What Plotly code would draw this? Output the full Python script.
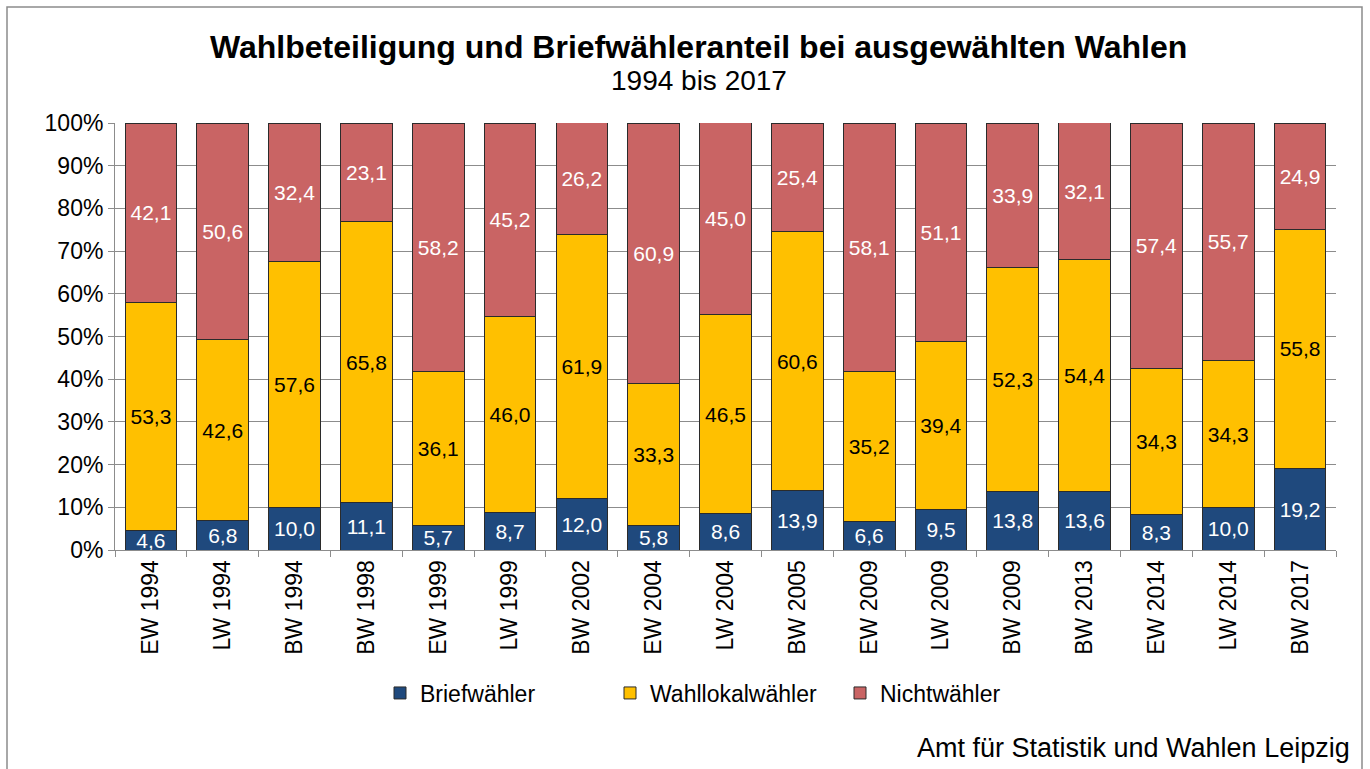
import plotly.graph_objects as go

wahlen = ["EW 1994", "LW 1994", "BW 1994", "BW 1998", "EW 1999", "LW 1999", "BW 2002",
          "EW 2004", "LW 2004", "BW 2005", "EW 2009", "LW 2009", "BW 2009", "BW 2013",
          "EW 2014", "LW 2014", "BW 2017"]
briefwaehler = [4.6, 6.8, 10.0, 11.1, 5.7, 8.7, 12.0, 5.8, 8.6, 13.9, 6.6, 9.5, 13.8, 13.6, 8.3, 10.0, 19.2]
wahllokalwaehler = [53.3, 42.6, 57.6, 65.8, 36.1, 46.0, 61.9, 33.3, 46.5, 60.6, 35.2, 39.4, 52.3, 54.4, 34.3, 34.3, 55.8]
nichtwaehler = [42.1, 50.6, 32.4, 23.1, 58.2, 45.2, 26.2, 60.9, 45.0, 25.4, 58.1, 51.1, 33.9, 32.1, 57.4, 55.7, 24.9]

FONT = "Liberation Sans, Arial, sans-serif"


def de(v):
    return f"{v:.1f}".replace(".", ",")


series = [
    ("Briefwähler", briefwaehler, "#1F497D", "white"),
    ("Wahllokalwähler", wahllokalwaehler, "#FFC000", "black"),
    ("Nichtwähler", nichtwaehler, "#C96464", "white"),
]

fig = go.Figure()
for name, vals, color, tcol in series:
    fig.add_trace(go.Bar(
        x=wahlen, y=vals, name=name,
        marker=dict(color=color, line=dict(color="#2b2b2b", width=1)),
        text=[de(v) for v in vals],
        textposition="inside", insidetextanchor="middle",
        constraintext="none",
        textfont=dict(family=FONT, size=21, color=tcol),
        textangle=0,
        hoverinfo="skip",
    ))

# plot area: x 115..1336, y 123..550 (pixels)
L, R, T, B = 115, 1336, 123, 550
W, H = R - L, B - T


def px(x):
    return (x - L) / W


def py(y):
    return (B - y) / H


fig.update_layout(
    barmode="stack",
    bargap=0.28,
    width=1370, height=769,
    margin=dict(l=L, r=1370 - R, t=T, b=769 - B),
    paper_bgcolor="white", plot_bgcolor="white",
    font=dict(family=FONT, size=23, color="black"),
    showlegend=True,
    legend=dict(orientation="h", x=px(725), xanchor="center", y=py(693), yanchor="middle",
                font=dict(family=FONT, size=23), traceorder="normal",
                itemwidth=30, entrywidth=185, entrywidthmode="pixels",
                bgcolor="rgba(0,0,0,0)"),
    xaxis=dict(type="category", showline=True, linecolor="#8c8c8c", linewidth=1,
               ticks="outside", tickson="boundaries", ticklen=6, tickcolor="#8c8c8c",
               tickangle=-90, tickfont=dict(family=FONT, size=23), showgrid=False),
    yaxis=dict(range=[0, 100], dtick=10, ticksuffix="%", showline=True, linecolor="#8c8c8c",
               linewidth=1, ticks="outside", ticklen=6, tickcolor="#8c8c8c",
               showgrid=True, gridcolor="#8c8c8c", gridwidth=1, zeroline=False,
               tickfont=dict(family=FONT, size=23)),
    shapes=[dict(type="rect", xref="paper", yref="paper",
                 x0=px(7), x1=px(1362), y0=py(790), y1=py(7),
                 line=dict(color="#8c8c8c", width=1.5), fillcolor="rgba(0,0,0,0)", layer="below")],
    annotations=[
        dict(text="<b>Wahlbeteiligung und Briefwähleranteil bei ausgewählten Wahlen</b>",
             xref="paper", yref="paper", x=px(698), y=py(47), xanchor="center", yanchor="middle",
             showarrow=False, font=dict(family=FONT, size=32, color="black")),
        dict(text="1994 bis 2017", xref="paper", yref="paper", x=px(699), y=py(81),
             xanchor="center", yanchor="middle", showarrow=False,
             font=dict(family=FONT, size=28, color="black")),
        dict(text="Amt für Statistik und Wahlen Leipzig", xref="paper", yref="paper",
             x=px(1352), y=py(748), xanchor="right", yanchor="middle", showarrow=False,
             font=dict(family=FONT, size=27, color="black")),
    ],
)

fig.write_html("out.html")
